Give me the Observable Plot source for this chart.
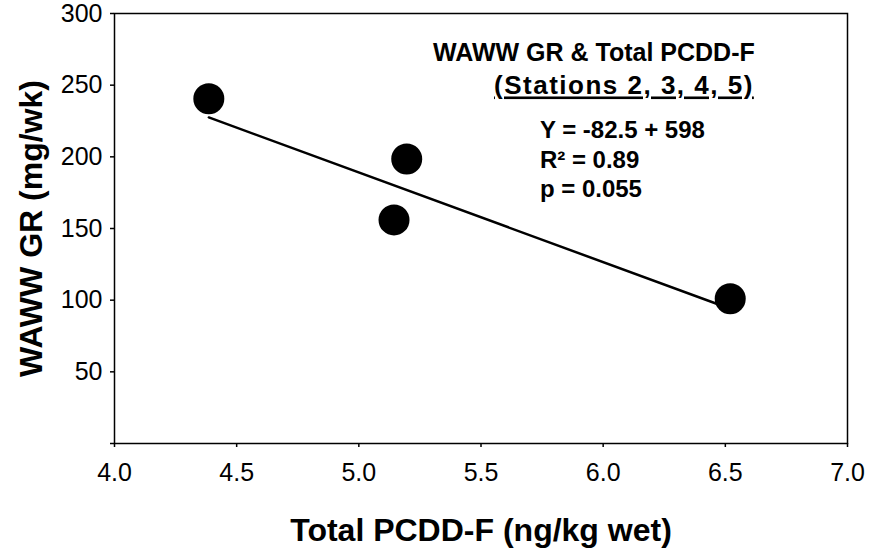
<!DOCTYPE html>
<html><head><meta charset="utf-8">
<script src="https://cdn.jsdelivr.net/npm/d3@7"></script>
<script src="https://cdn.jsdelivr.net/npm/@observablehq/plot@0.6"></script>
<style>
body{margin:0;background:#fff}
svg{font-family:"Liberation Sans",Arial,sans-serif}
</style>
</head><body><div id="chart"></div>
<script>
// Data
const pcdd = [4.386, 5.196, 5.144, 6.52];      // Total PCDD-F (ng/kg wet)
const growth = [240.5, 198.5, 156, 101];       // WAWW GR (mg/wk)
const fitX = [4.386, 6.52];                    // regression line ends
const fitY = [227.5, 94];
const xTicks = [4.0, 4.5, 5.0, 5.5, 6.0, 6.5, 7.0];
const yTicks = [0, 50, 100, 150, 200, 250, 300];
const yLabelTicks = [50, 100, 150, 200, 250, 300];
const xTitle = "Total PCDD-F (ng/kg wet)";
const yTitle = "WAWW GR (mg/wk)";
const titleLines = ["WAWW GR & Total PCDD-F", "(Stations 2, 3, 4, 5)"];
const titleX = [5.962, 6.085];
const titleY = [266.9, 243.5];
const statLines = ["Y = -82.5 + 598", "R² = 0.89", "p = 0.055"];
const statX = 5.741;
const statY = [213.1, 192.0, 171.9];

const xFmt = d3.format(".1f");
const points = pcdd.map((x, i) => ({x, y: growth[i]}));
const fit = fitX.map((x, i) => ({x, y: fitY[i]}));
const titles = titleLines.map((t, i) => ({t, x: titleX[i], y: titleY[i]}));
const stats = statLines.map((t, i) => ({t, x: statX, y: statY[i]}));

const chart = Plot.plot({
  width: 871, height: 550,
  marginLeft: 114, marginRight: 24, marginTop: 13, marginBottom: 107,
  style: {fontFamily: '"Liberation Sans", Arial, sans-serif', background: "#fff", color: "#000"},
  x: {domain: [4, 7]},
  y: {domain: [0, 300]},
  marks: [
    Plot.frame({stroke: "#000", strokeWidth: 1.5}),
    Plot.axisX({ticks: xTicks, tickFormat: () => "", tickSize: 4, label: null, strokeWidth: 1.5}),
    Plot.axisY({ticks: yTicks, tickFormat: () => "", tickSize: 4, label: null, strokeWidth: 1.5}),
    Plot.text(xTicks, {x: d => d, frameAnchor: "bottom", dy: 20, lineAnchor: "top",
      textAnchor: "middle", text: xFmt, fontSize: 25, fill: "#000"}),
    Plot.text(yLabelTicks, {y: d => d, frameAnchor: "left", dx: -12, lineAnchor: "middle",
      textAnchor: "end", text: d => String(d), fontSize: 25, fill: "#000"}),
    Plot.line(fit, {x: "x", y: "y", stroke: "#000", strokeWidth: 2.5}),
    Plot.dot(points, {x: "x", y: "y", r: 15.5, fill: "#000", stroke: "none"}),
    Plot.text(titles, {x: "x", y: "y", text: "t", textAnchor: "middle", lineAnchor: "bottom",
      fontSize: 25, fontWeight: "bold", fill: "#000"}),
    Plot.text(stats, {x: "x", y: "y", text: "t", textAnchor: "start", lineAnchor: "bottom",
      fontSize: 24, fontWeight: "bold", fill: "#000"}),
    Plot.text([xTitle], {frameAnchor: "bottom", text: d => d, dy: 97, lineAnchor: "bottom",
      textAnchor: "middle", fontSize: 32, fontWeight: "bold", fill: "#000"}),
    Plot.text([yTitle], {frameAnchor: "left", text: d => d, rotate: -90, dx: -73, lineAnchor: "bottom",
      textAnchor: "middle", fontSize: 32, fontWeight: "bold", fill: "#000"})
  ]
});
const svg = d3.select(chart);
svg.selectAll("text").filter(function() {
  return this.textContent === titleLines[1];
}).style("text-decoration", "underline").style("letter-spacing", "1.5px").style("font-size", "26px");
document.getElementById("chart").append(chart);
</script>
</body></html>
